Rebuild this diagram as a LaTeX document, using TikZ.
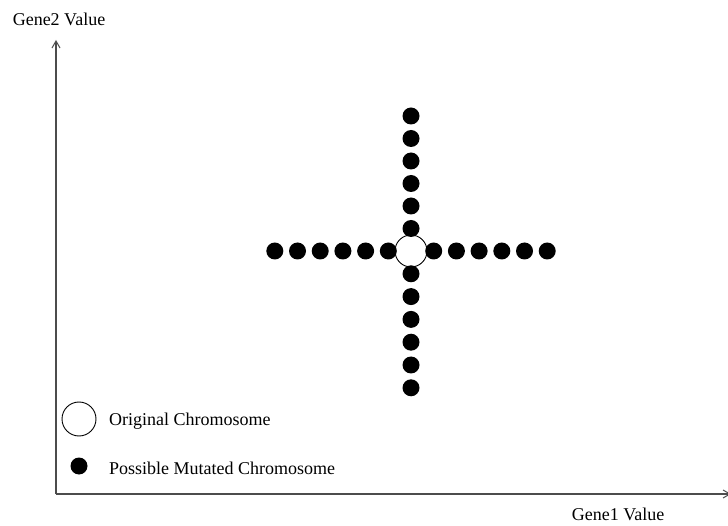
\documentclass[tikz,border=0pt]{standalone}
\usepackage{fontspec}
\setmainfont{Liberation Serif}
\usetikzlibrary{arrows.meta}
\begin{document}
\begin{tikzpicture}[x=1pt,y=-1pt,
  lbl/.style={font=\fontsize{18}{21}\selectfont, inner sep=0pt},
  axis/.style={draw=black!70, line width=1.3pt, -{Straight Barb[length=7pt,width=8pt,line width=1pt]}},
  orig/.style={circle, draw=black, line width=0.9pt, fill=white, minimum size=32pt, inner sep=0pt},
  mut/.style={circle, fill=black, minimum size=17pt, inner sep=0pt}]
\useasboundingbox (0,0) rectangle (728,526);
% axes
\coordinate (o) at (56,494);
\coordinate (ytop) at (56,40);
\coordinate (xend) at (731,494);
\draw[axis] (o) -- (ytop);
\draw[axis] (o) -- (xend);
\node[lbl] (ylab) at (59,19) {Gene2 Value};
\node[lbl] (xlab) at (618,514) {Gene1 Value};
% cross of mutated chromosomes
\node[orig] (c) at (411,251) {};
\foreach \k in {1,...,6} {
  \node[mut] (r\k) at (411+22.7*\k,251) {};
  \node[mut] (l\k) at (411-22.7*\k,251) {};
  \node[mut] (u\k) at (411,251-22.5*\k) {};
  \node[mut] (d\k) at (411,251+22.8*\k) {};
}
% legend
\node[orig, minimum size=34pt] (lo) at (79,419) {};
\node[lbl, anchor=west] (lot) at (109,421) {Original Chromosome};
\node[mut] (lm) at (79,466) {};
\node[lbl, anchor=west] (lmt) at (109,468) {Possible Mutated Chromosome};
\end{tikzpicture}
\end{document}
